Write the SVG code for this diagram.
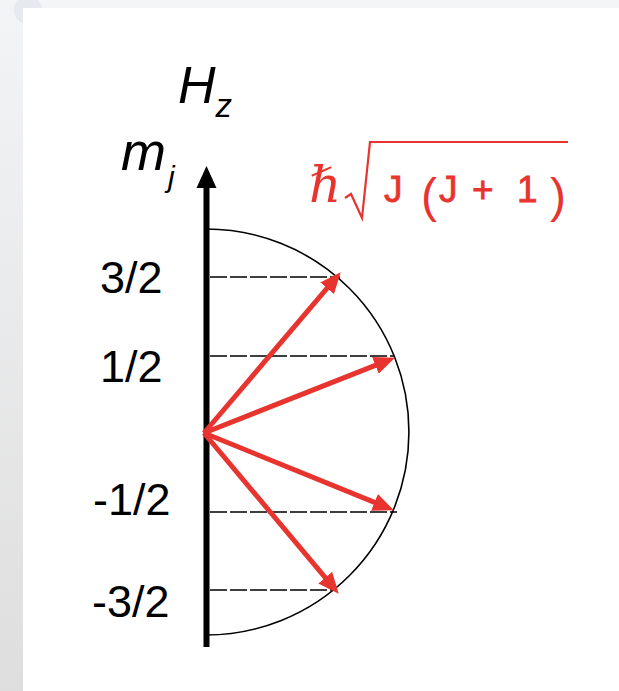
<svg xmlns="http://www.w3.org/2000/svg" width="619" height="691" viewBox="0 0 619 691">
<defs>
<linearGradient id="strip" x1="0" y1="0" x2="0" y2="1">
<stop offset="0" stop-color="#f3f4f6"/>
<stop offset="1" stop-color="#dedede"/>
</linearGradient>
<marker id="redhead" markerUnits="userSpaceOnUse" markerWidth="22" markerHeight="18" refX="4" refY="9" orient="auto" viewBox="0 0 22 18">
<path d="M0,0 L21,9 L0,18 Z" fill="#e8342f"/>
</marker>
</defs>
<style>
text{font-family:"Liberation Sans",Arial,sans-serif;}
.lab{font-size:45px;fill:#000;}
.dash{stroke:#000;stroke-width:1.4;stroke-dasharray:17 3;fill:none;}
.vec{stroke:#e8342f;stroke-width:5;fill:none;marker-end:url(#redhead);}
.rt{fill:#e8342f;stroke:#e8342f;stroke-width:0.8;font-size:37px;}
.paren{fill:#e8342f;font-size:48px;}
</style>
<rect x="0" y="0" width="619" height="691" fill="#f4f5f7"/>
<rect x="0" y="0" width="24" height="691" fill="url(#strip)"/>
<circle cx="28" cy="10" r="14" fill="#e6e9ef"/>
<rect x="23" y="8" width="596" height="683" fill="#ffffff"/>

<g id="axis">
<line x1="206.5" y1="186" x2="206.5" y2="647" stroke="#000" stroke-width="6"/>
<polygon points="206.5,166 216.5,188 196.5,188" fill="#000"/>
</g>

<g id="sphere">
<path d="M206,229 A203,203 0 0 1 206,635" fill="none" stroke="#000" stroke-width="1.6"/>
</g>

<g id="levels">
<line class="dash" x1="210" y1="277" x2="340" y2="277"/>
<line class="dash" x1="210" y1="356" x2="394" y2="356"/>
<line class="dash" x1="210" y1="512" x2="397" y2="512"/>
<line class="dash" x1="210" y1="590" x2="334" y2="590"/>
</g>

<g id="connectors">
<line class="vec" x1="204" y1="433" x2="329.7" y2="285.2"/>
<line class="vec" x1="204" y1="433" x2="379.1" y2="363.9"/>
<line class="vec" x1="204" y1="433" x2="378.2" y2="503.9"/>
<line class="vec" x1="204" y1="433" x2="327.8" y2="580.7"/>
</g>

<g id="label-Hz">
<text x="178" y="103" font-size="52" font-style="italic">H<tspan font-size="33" dy="14">z</tspan></text>
</g>
<g id="label-mj">
<text x="121" y="170" font-size="54" font-style="italic">m<tspan font-size="30" dx="2" dy="17">j</tspan></text>
</g>

<g id="label-magnitude">
<text x="309" y="202" font-size="50" font-style="italic" fill="#e8342f" style="font-family:'Liberation Serif','DejaVu Serif',serif">ℏ</text>
<path d="M345,198 L351,194 L362,218 L370,142 L568,142" fill="none" stroke="#e8342f" stroke-width="2.2" stroke-linejoin="miter"/>
<text class="rt" x="384" y="202">J</text>
<text class="paren" x="421" y="212">(</text>
<text class="rt" x="439" y="202">J</text>
<text class="rt" x="472" y="202">+</text>
<text class="rt" x="517" y="202">1</text>
<text class="paren" x="550" y="212">)</text>
</g>

<g id="label-3-2"><text class="lab" x="100" y="293">3/2</text></g>
<g id="label-1-2"><text class="lab" x="100" y="382">1/2</text></g>
<g id="label-m1-2"><text class="lab" x="93" y="515">-1/2</text></g>
<g id="label-m3-2"><text class="lab" x="92" y="617">-3/2</text></g>
</svg>
